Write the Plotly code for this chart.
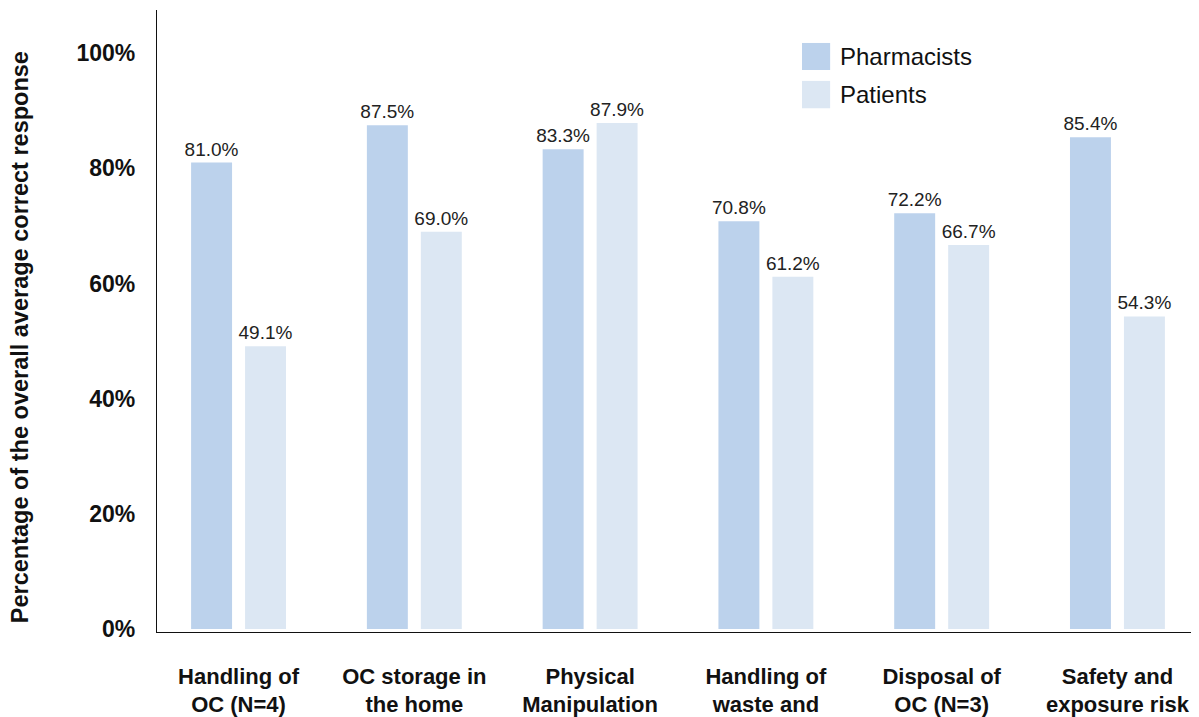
import plotly.graph_objects as go

categories = ["Handling of<br>OC (N=4)", "OC storage in<br>the home", "Physical<br>Manipulation",
              "Handling of<br>waste and", "Disposal of<br>OC (N=3)", "Safety and<br>exposure risk"]
pharmacists = [81.0, 87.5, 83.3, 70.8, 72.2, 85.4]
patients = [49.1, 69.0, 87.9, 61.2, 66.7, 54.3]
series_names = ["Pharmacists", "Patients"]
y_ticks = [0, 20, 40, 60, 80, 100]
y_title = "Percentage of the overall average correct response"

C_PHARM = "#BCD2EC"
C_PAT = "#DCE7F3"
FONT = "Liberation Sans, Arial, Helvetica, sans-serif"

fig = go.Figure()
for name, vals, color, off in [(series_names[0], pharmacists, C_PHARM, -0.27),
                               (series_names[1], patients, C_PAT, 0.037)]:
    fig.add_trace(go.Bar(
        x=categories, y=vals, name=name, marker=dict(color=color, line=dict(width=0)),
        width=0.233, offset=off,
        text=[f"{v:.1f}%" for v in vals], textposition="outside", cliponaxis=False,
        constraintext="none",
        textfont=dict(family=FONT, size=19, color="#222"),
        showlegend=False,
    ))

# legend drawn as swatches + text
for i, (name, color) in enumerate(zip(series_names, [C_PHARM, C_PAT])):
    y0s = [(0.9035, 0.947), (0.842, 0.886)][i]
    fig.add_shape(type="rect", xref="paper", yref="paper", x0=0.619, x1=0.646,
                  y0=y0s[0], y1=y0s[1], fillcolor=color, line=dict(width=0))
    fig.add_annotation(xref="paper", yref="paper", x=0.6536, y=(y0s[0] + y0s[1]) / 2,
                       text=name, showarrow=False, xanchor="left", yanchor="middle",
                       font=dict(family=FONT, size=24, color="#111"))

# y-axis title
fig.add_annotation(xref="paper", yref="paper", x=0, y=0.474, xshift=-137,
                   text=y_title, textangle=-90, showarrow=False,
                   xanchor="center", yanchor="middle",
                   font=dict(family=FONT, size=23.5, color="#111", weight="bold"))

fig.update_layout(
    width=1191, height=709,
    margin=dict(l=149, r=0, t=2, b=85),
    plot_bgcolor="white", paper_bgcolor="white",
    barmode="overlay",
    font=dict(family=FONT, color="#111"),
    xaxis=dict(range=[-0.464, 5.464], showline=True, linecolor="#111", linewidth=1.2,
               showgrid=False, ticks="", ticklabelstandoff=24, automargin=False,
               tickfont=dict(family=FONT, size=22, color="#111", weight="bold")),
    yaxis=dict(range=[-0.5, 107.5], showline=True, linecolor="#111", linewidth=1.2,
               showgrid=False, zeroline=False, tickvals=y_ticks, automargin=False,
               ticktext=[f"{t}%" for t in y_ticks], ticks="", ticklabelstandoff=16,
               tickfont=dict(family=FONT, size=23, color="#111", weight="bold")),
)

fig.write_html("out.html")
